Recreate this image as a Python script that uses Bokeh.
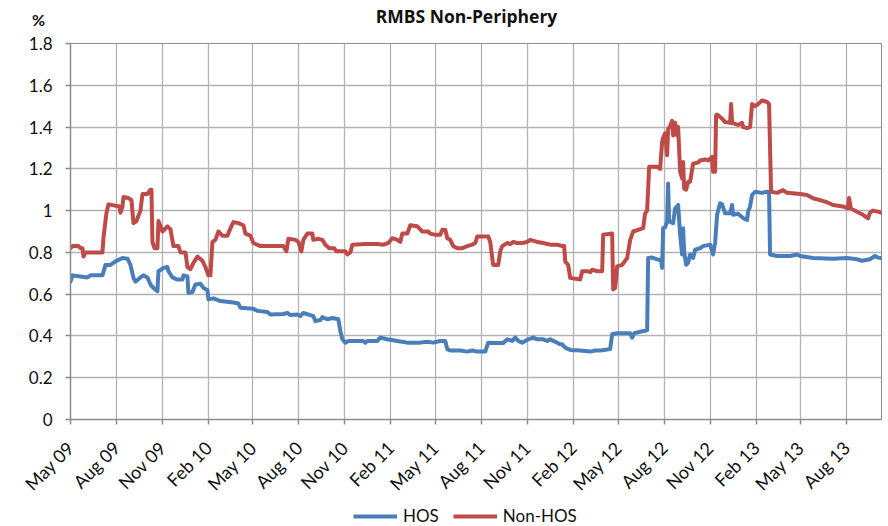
import pandas as pd
from math import pi
from bokeh.plotting import figure
from bokeh.layouts import column
from bokeh.models import (Range1d, FixedTicker, DatetimeTickFormatter, NumeralTickFormatter,
                          Legend, LegendItem, Label)
from bokeh.embed import file_html
from bokeh.resources import INLINE

# ---------------- data ----------------
title_text = "RMBS Non-Periphery"
y_unit = "%"
series_names = ["HOS", "Non-HOS"]

x_tick_dates = ["2009-05-01", "2009-08-01", "2009-11-01", "2010-02-01", "2010-05-01", "2010-08-01",
                "2010-11-01", "2011-02-01", "2011-05-01", "2011-08-01", "2011-11-01", "2012-02-01",
                "2012-05-01", "2012-08-01", "2012-11-01", "2013-02-01", "2013-05-01", "2013-08-01"]
x_tick_labels = ["May 09", "Aug 09", "Nov 09", "Feb 10", "May 10", "Aug 10", "Nov 10", "Feb 11",
                 "May 11", "Aug 11", "Nov 11", "Feb 12", "May 12", "Aug 12", "Nov 12", "Feb 13",
                 "May 13", "Aug 13"]
x_start, x_end = "2009-05-01", "2013-10-10"
y_ticks = [0, 0.2, 0.4, 0.6, 0.8, 1.0, 1.2, 1.4, 1.6, 1.8]

hos_dates = [
    "2009-05-01", "2009-05-05", "2009-05-21", "2009-06-04", "2009-06-10", "2009-07-04", "2009-07-10",
    "2009-07-20", "2009-07-30", "2009-08-13", "2009-08-23", "2009-08-29", "2009-09-04", "2009-09-08",
    "2009-09-18", "2009-09-24", "2009-10-02", "2009-10-08", "2009-10-14", "2009-10-22", "2009-10-24",
    "2009-11-03", "2009-11-11", "2009-11-13", "2009-11-21", "2009-12-01", "2009-12-11", "2009-12-13",
    "2009-12-21", "2009-12-23", "2009-12-31", "2010-01-06", "2010-01-16", "2010-01-22", "2010-01-30",
    "2010-02-01", "2010-02-11", "2010-02-25", "2010-03-23", "2010-04-02", "2010-04-06", "2010-05-02",
    "2010-05-10", "2010-05-30", "2010-06-05", "2010-07-01", "2010-07-09", "2010-07-15", "2010-07-29",
    "2010-08-04", "2010-08-10", "2010-08-24", "2010-08-30", "2010-09-03", "2010-09-13", "2010-09-17",
    "2010-09-27", "2010-10-07", "2010-10-19", "2010-10-23", "2010-10-27", "2010-11-02", "2010-11-08",
    "2010-12-08", "2010-12-12", "2010-12-16", "2011-01-05", "2011-01-11", "2011-01-25", "2011-02-14",
    "2011-03-06", "2011-04-01", "2011-04-15", "2011-04-27", "2011-05-11", "2011-05-21", "2011-05-25",
    "2011-05-31", "2011-06-20", "2011-07-04", "2011-07-14", "2011-07-24", "2011-08-09", "2011-08-15",
    "2011-09-02", "2011-09-14", "2011-09-22", "2011-10-02", "2011-10-08", "2011-10-14", "2011-10-22",
    "2011-10-28", "2011-11-03", "2011-11-13", "2011-11-21", "2011-12-03", "2011-12-11", "2011-12-17",
    "2011-12-23", "2011-12-31", "2012-01-06", "2012-01-10", "2012-01-16", "2012-01-26", "2012-02-15",
    "2012-03-06", "2012-03-16", "2012-03-26", "2012-04-15", "2012-04-19", "2012-04-29", "2012-05-25",
    "2012-05-29", "2012-06-02", "2012-06-14", "2012-06-28", "2012-06-30", "2012-07-08", "2012-07-20",
    "2012-07-26", "2012-07-28", "2012-07-30", "2012-08-03", "2012-08-07", "2012-08-09", "2012-08-11",
    "2012-08-19", "2012-08-23", "2012-08-29", "2012-09-02", "2012-09-06", "2012-09-08", "2012-09-10",
    "2012-09-14", "2012-09-18", "2012-09-22", "2012-09-28", "2012-10-02", "2012-10-12", "2012-10-18",
    "2012-11-01", "2012-11-07", "2012-11-11", "2012-11-15", "2012-11-21", "2012-11-25", "2012-12-01",
    "2012-12-11", "2012-12-15", "2012-12-17", "2012-12-27", "2013-01-06", "2013-01-14", "2013-01-16",
    "2013-01-20", "2013-01-24", "2013-01-30", "2013-02-13", "2013-02-23", "2013-02-27", "2013-03-01",
    "2013-03-15", "2013-04-10", "2013-04-24", "2013-04-30", "2013-05-26", "2013-07-05", "2013-08-02",
    "2013-08-22", "2013-09-01", "2013-09-17", "2013-09-27", "2013-10-03", "2013-10-09"]
hos_values = [
    0.66, 0.69, 0.685, 0.68, 0.69, 0.69, 0.74,
    0.74, 0.757, 0.773, 0.77, 0.74, 0.678, 0.66,
    0.68, 0.69, 0.68, 0.646, 0.63, 0.614, 0.71,
    0.725, 0.73, 0.71, 0.68, 0.67, 0.67, 0.69,
    0.685, 0.606, 0.61, 0.646, 0.65, 0.63, 0.62,
    0.575, 0.58, 0.567, 0.56, 0.555, 0.535, 0.53,
    0.52, 0.515, 0.503, 0.505, 0.51, 0.50, 0.503,
    0.495, 0.51, 0.50, 0.495, 0.471, 0.476, 0.49,
    0.48, 0.486, 0.48, 0.424, 0.384, 0.368, 0.376,
    0.376, 0.368, 0.376, 0.376, 0.392, 0.384, 0.376,
    0.368, 0.368, 0.372, 0.368, 0.376, 0.376, 0.337,
    0.33, 0.33, 0.325, 0.33, 0.325, 0.325, 0.368,
    0.366, 0.366, 0.384, 0.376, 0.392, 0.376, 0.368,
    0.376, 0.384, 0.392, 0.384, 0.384, 0.376, 0.384,
    0.376, 0.368, 0.36, 0.36, 0.344, 0.333, 0.33,
    0.325, 0.33, 0.33, 0.337, 0.408, 0.413, 0.413,
    0.392, 0.413, 0.42, 0.427, 0.773, 0.775, 0.765,
    0.765, 0.725, 0.916, 0.92, 0.948, 1.13, 0.948,
    0.94, 1.01, 1.027, 0.884, 0.79, 0.916, 0.805,
    0.741, 0.75, 0.79, 0.773, 0.813, 0.82, 0.83,
    0.837, 0.79, 0.845, 0.98, 1.035, 1.03, 0.987,
    0.987, 1.027, 0.98, 0.985, 0.965, 0.955, 0.995,
    1.02, 1.075, 1.09, 1.085, 1.09, 1.09, 0.79,
    0.783, 0.783, 0.79, 0.783, 0.773, 0.77, 0.773,
    0.767, 0.76, 0.767, 0.783, 0.775, 0.773]

nonhos_dates = [
    "2009-05-01", "2009-05-05", "2009-05-17", "2009-05-21", "2009-05-25", "2009-05-27", "2009-05-31",
    "2009-07-04", "2009-07-06", "2009-07-12", "2009-07-16", "2009-08-07", "2009-08-09", "2009-08-13",
    "2009-08-15", "2009-08-25", "2009-08-31", "2009-09-04", "2009-09-10", "2009-09-18", "2009-09-22",
    "2009-10-02", "2009-10-08", "2009-10-10", "2009-10-12", "2009-10-16", "2009-10-22", "2009-10-24",
    "2009-11-01", "2009-11-11", "2009-11-17", "2009-11-23", "2009-12-03", "2009-12-07", "2009-12-17",
    "2009-12-21", "2009-12-27", "2010-01-02", "2010-01-10", "2010-01-20", "2010-01-26", "2010-02-01",
    "2010-02-05", "2010-02-09", "2010-02-15", "2010-02-21", "2010-03-01", "2010-03-11", "2010-03-17",
    "2010-03-23", "2010-04-02", "2010-04-12", "2010-04-16", "2010-04-26", "2010-05-02", "2010-05-16",
    "2010-07-01", "2010-07-07", "2010-07-11", "2010-07-25", "2010-07-31", "2010-08-06", "2010-08-10",
    "2010-08-18", "2010-08-28", "2010-08-30", "2010-09-09", "2010-09-17", "2010-09-23", "2010-10-01",
    "2010-10-11", "2010-10-15", "2010-11-02", "2010-11-06", "2010-11-12", "2010-11-16", "2010-12-12",
    "2011-01-05", "2011-01-17", "2011-01-27", "2011-02-04", "2011-02-14", "2011-02-20", "2011-02-24",
    "2011-03-06", "2011-03-12", "2011-03-26", "2011-04-05", "2011-04-17", "2011-04-21", "2011-05-01",
    "2011-05-11", "2011-05-15", "2011-05-21", "2011-05-25", "2011-05-31", "2011-06-06", "2011-06-14",
    "2011-06-24", "2011-07-04", "2011-07-14", "2011-07-20", "2011-07-24", "2011-08-15", "2011-08-19",
    "2011-08-23", "2011-08-25", "2011-09-04", "2011-09-08", "2011-09-12", "2011-09-22", "2011-09-28",
    "2011-10-04", "2011-10-12", "2011-10-22", "2011-11-01", "2011-11-07", "2011-11-21", "2011-12-03",
    "2011-12-17", "2011-12-31", "2012-01-10", "2012-01-14", "2012-01-16", "2012-01-22", "2012-01-26",
    "2012-02-15", "2012-02-19", "2012-02-29", "2012-03-06", "2012-03-10", "2012-03-20", "2012-03-30",
    "2012-04-01", "2012-04-19", "2012-04-21", "2012-04-25", "2012-04-29", "2012-05-09", "2012-05-19",
    "2012-05-25", "2012-05-31", "2012-06-10", "2012-06-20", "2012-06-24", "2012-06-28", "2012-07-02",
    "2012-07-18", "2012-07-24", "2012-07-28", "2012-07-30", "2012-08-03", "2012-08-07", "2012-08-09",
    "2012-08-13", "2012-08-17", "2012-08-19", "2012-08-23", "2012-08-27", "2012-08-29", "2012-09-02",
    "2012-09-06", "2012-09-08", "2012-09-10", "2012-09-14", "2012-09-18", "2012-09-22", "2012-09-28",
    "2012-10-08", "2012-10-12", "2012-10-22", "2012-10-28", "2012-11-05", "2012-11-07", "2012-11-11",
    "2012-11-13", "2012-11-15", "2012-11-25", "2012-12-01", "2012-12-11", "2012-12-13", "2012-12-15",
    "2012-12-27", "2013-01-04", "2013-01-06", "2013-01-14", "2013-01-20", "2013-01-24", "2013-01-30",
    "2013-02-05", "2013-02-13", "2013-02-23", "2013-02-27", "2013-03-03", "2013-03-15", "2013-03-27",
    "2013-04-04", "2013-04-30", "2013-05-14", "2013-05-26", "2013-06-09", "2013-06-23", "2013-07-05",
    "2013-07-25", "2013-08-04", "2013-08-06", "2013-08-10", "2013-08-22", "2013-09-03", "2013-09-13",
    "2013-09-17", "2013-09-23", "2013-10-03", "2013-10-09"]
nonhos_values = [
    0.82, 0.83, 0.83, 0.82, 0.82, 0.78, 0.80,
    0.80, 0.87, 0.99, 1.03, 1.02, 0.99, 1.02,
    1.065, 1.06, 1.05, 0.94, 0.95, 1.00, 1.08,
    1.08, 1.10, 1.10, 0.85, 0.82, 0.82, 0.95,
    0.90, 0.925, 0.91, 0.83, 0.83, 0.80, 0.80,
    0.73, 0.72, 0.75, 0.78, 0.76, 0.73, 0.69,
    0.69, 0.85, 0.86, 0.90, 0.88, 0.88, 0.915,
    0.945, 0.94, 0.93, 0.89, 0.88, 0.845, 0.83,
    0.83, 0.805, 0.865, 0.86, 0.85, 0.805, 0.86,
    0.89, 0.89, 0.86, 0.865, 0.86, 0.837, 0.82,
    0.82, 0.805, 0.805, 0.79, 0.80, 0.837, 0.84,
    0.84, 0.837, 0.845, 0.868, 0.86, 0.85, 0.89,
    0.89, 0.93, 0.925, 0.90, 0.90, 0.89, 0.884,
    0.884, 0.908, 0.908, 0.868, 0.86, 0.83, 0.82,
    0.82, 0.83, 0.837, 0.845, 0.876, 0.876, 0.85,
    0.773, 0.74, 0.74, 0.805, 0.83, 0.845, 0.84,
    0.85, 0.845, 0.845, 0.85, 0.86, 0.85, 0.845,
    0.837, 0.837, 0.83, 0.83, 0.757, 0.74, 0.678,
    0.67, 0.71, 0.71, 0.705, 0.717, 0.71, 0.71,
    0.884, 0.89, 0.622, 0.63, 0.733, 0.74, 0.773,
    0.86, 0.90, 0.908, 0.916, 0.987, 1.0, 1.21,
    1.21, 1.20, 1.33, 1.35, 1.37, 1.265, 1.39,
    1.405, 1.43, 1.36, 1.42, 1.36, 1.40, 1.186,
    1.154, 1.233, 1.106, 1.10, 1.138, 1.138, 1.225,
    1.23, 1.24, 1.245, 1.24, 1.257, 1.186, 1.186,
    1.456, 1.46, 1.44, 1.424, 1.42, 1.51, 1.42,
    1.41, 1.42, 1.40, 1.395, 1.40, 1.51, 1.50,
    1.51, 1.527, 1.52, 1.51, 1.09, 1.085, 1.098,
    1.085, 1.08, 1.075, 1.059, 1.05, 1.04, 1.027,
    1.02, 1.01, 1.06, 1.01, 0.995, 0.98, 0.963,
    0.99, 1.0, 0.995, 0.99]

# ---------------- styling ----------------
FONT = "Lato"
BLUE = "#4a7ebb"
RED = "#be4b48"
GRID = "#b3b3b3"
AXIS = "#8c8c8c"
TXT = "#111111"
W = 888
TOP, FRAME_H = 41, 378
MAIN_H = 506
FOOT_H = 526 - MAIN_H

p = figure(width=W, height=MAIN_H, output_backend="svg", toolbar_location=None,
           x_axis_type="datetime",
           x_range=Range1d(pd.Timestamp(x_start), pd.Timestamp(x_end)),
           y_range=Range1d(0, 1.8),
           min_border_left=70, min_border_right=7, min_border_top=TOP,
           min_border_bottom=MAIN_H - TOP - FRAME_H)
p.background_fill_color = "white"
p.border_fill_color = "white"
p.outline_line_color = AXIS
p.outline_line_width = 1

p.line(pd.to_datetime(hos_dates), hos_values, line_width=4, color=BLUE,
       line_join="round", line_cap="round")
p.line(pd.to_datetime(nonhos_dates), nonhos_values, line_width=4, color=RED,
       line_join="round", line_cap="round")

tick_ms = [int(t.value // 10**6) for t in pd.to_datetime(x_tick_dates)]
xa = p.xaxis[0]
xa.ticker = FixedTicker(ticks=tick_ms)
xa.formatter = DatetimeTickFormatter(months="%b %y", days="%b %y", years="%b %y")
xa.major_label_overrides = {ms: lab for ms, lab in zip(tick_ms, x_tick_labels)}
xa.major_label_orientation = pi / 4
xa.major_tick_out = 5
xa.major_tick_in = 0
xa.minor_tick_out = 0
xa.minor_tick_in = 0
xa.major_label_standoff = 20
xa.axis_line_color = AXIS
xa.axis_line_width = 1.5
xa.major_tick_line_color = AXIS
xa.major_tick_line_width = 1.5
xa.major_label_text_font = FONT
xa.major_label_text_font_size = "18px"
xa.major_label_text_color = TXT

ya = p.yaxis[0]
ya.ticker = FixedTicker(ticks=y_ticks)
ya.formatter = NumeralTickFormatter(format="0.[0]")
ya.major_tick_out = 5
ya.major_tick_in = 0
ya.minor_tick_out = 0
ya.minor_tick_in = 0
ya.major_label_standoff = 13
ya.axis_line_color = AXIS
ya.axis_line_width = 1.5
ya.major_tick_line_color = AXIS
ya.major_tick_line_width = 1.5
ya.major_label_text_font = FONT
ya.major_label_text_font_size = "17px"
ya.major_label_text_color = TXT

p.xgrid.grid_line_color = GRID
p.xgrid.grid_line_width = 1.3
p.ygrid.grid_line_color = GRID
p.ygrid.grid_line_width = 1.3

# unit marker and title, placed in the panel above the frame
p.add_layout(Label(x=-32, y=24, x_units="screen", y_units="screen", text=y_unit,
                   text_font=FONT, text_font_style="bold", text_font_size="16px",
                   text_align="center", text_baseline="middle", text_color=TXT), "above")
p.add_layout(Label(x=396, y=9, x_units="screen", y_units="screen", text=title_text,
                   text_font="Open Sans", text_font_style="bold", text_font_size="17.5px",
                   text_align="center", text_baseline="middle", text_color=TXT), "above")

# legend strip under the chart (its key lines carry no data)
foot = figure(width=W, height=FOOT_H, output_backend="svg", toolbar_location=None,
              x_range=Range1d(0, 1), y_range=Range1d(0, 1),
              x_axis_location=None, y_axis_location=None, min_border=0)
foot.outline_line_color = None
foot.xgrid.visible = False
foot.ygrid.visible = False
nan = float("nan")
k_hos = foot.line(x=[nan], y=[nan], line_width=4, color=BLUE)
k_non = foot.line(x=[nan], y=[nan], line_width=4, color=RED)
legend = Legend(items=[LegendItem(label=series_names[0], renderers=[k_hos]),
                       LegendItem(label=series_names[1], renderers=[k_non])],
                orientation="horizontal", location=(283, 0),
                glyph_width=44, glyph_height=18, label_standoff=6, spacing=14,
                padding=0, margin=0, border_line_alpha=0, background_fill_alpha=0,
                label_text_font=FONT, label_text_font_size="17px", label_text_color=TXT)
foot.add_layout(legend)

layout = column(p, foot, spacing=0)
open("out.html", "w").write(file_html(layout, INLINE))
